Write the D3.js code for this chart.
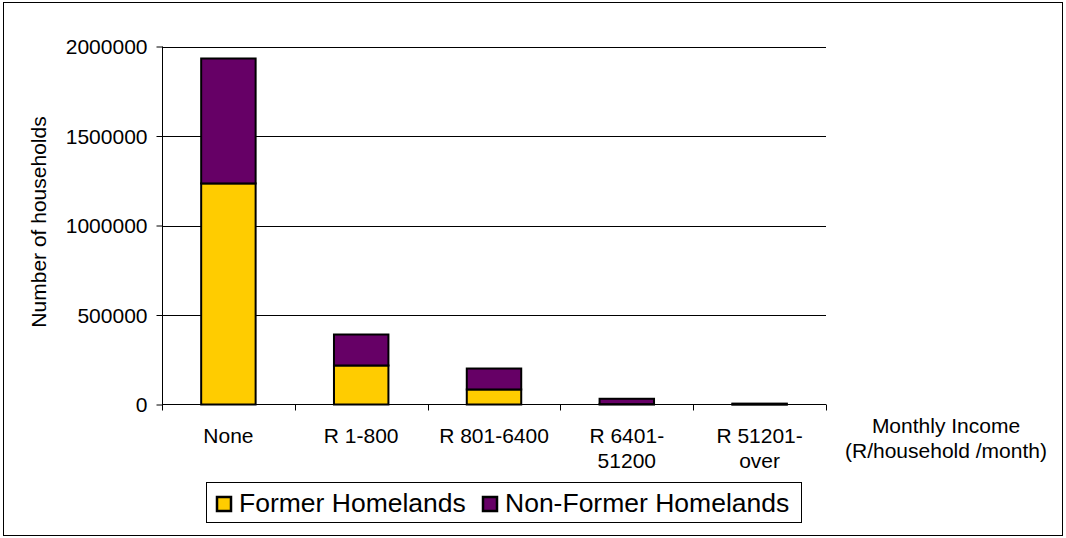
<!DOCTYPE html>
<html>
<head>
<meta charset="utf-8">
<script src="https://cdn.jsdelivr.net/npm/d3@7"></script>
<style>
  body { margin: 0; background: #fff; }
  text { font-family: Arial, "Liberation Sans", sans-serif; fill: #000; }
</style>
</head>
<body>
<svg width="1066" height="538"></svg>
<script>
var categories = [["None"], ["R 1-800"], ["R 801-6400"], ["R 6401-", "51200"], ["R 51201-", "over"]];
var former = [1235000, 218000, 84000, 2000, 500];
var nonFormer = [698000, 173000, 117000, 30000, 4500];
var yTicks = [0, 500000, 1000000, 1500000, 2000000];
var seriesNames = ["Former Homelands", "Non-Former Homelands"];
var colors = ["#ffcc00", "#660066"];

var svg = d3.select("svg");

svg.append("rect")
    .attr("x", 3.5).attr("y", 2.5)
    .attr("width", 1059).attr("height", 533)
    .attr("fill", "none").attr("stroke", "#000").attr("stroke-width", 1);

var margin = {left: 162, top: 46.5, right: 826, bottom: 404.5};

var x = d3.scaleBand()
    .domain(d3.range(categories.length))
    .range([margin.left, margin.right])
    .paddingInner(0.59).paddingOuter(0.295);

var y = d3.scaleLinear()
    .domain([0, 2000000])
    .range([margin.bottom, margin.top]);

// gridlines
svg.append("g")
    .selectAll("line")
    .data(yTicks.slice(1))
    .enter()
        .append("line")
        .attr("x1", margin.left).attr("x2", margin.right)
        .attr("y1", function(d) { return Math.round(y(d)) + 0.5; })
        .attr("y2", function(d) { return Math.round(y(d)) + 0.5; })
        .attr("stroke", "#000").attr("stroke-width", 1);

// y axis
var yAxis = svg.append("g")
    .attr("transform", "translate(" + (margin.left + 0.5) + ",0)")
    .call(d3.axisLeft(y).tickValues(yTicks).tickFormat(d3.format("d")).tickSize(6).tickPadding(9));
yAxis.selectAll("text").style("font-size", "21px").attr("dy", "0.35em");
yAxis.selectAll("line, path").attr("stroke", "#000");
yAxis.select(".domain").attr("d", "M0," + margin.top + "V" + margin.bottom);

// x axis line and ticks between categories
svg.append("line")
    .attr("x1", margin.left).attr("x2", margin.right)
    .attr("y1", margin.bottom).attr("y2", margin.bottom)
    .attr("stroke", "#000");
var step = (margin.right - margin.left) / categories.length;
svg.append("g")
    .selectAll("line")
    .data(d3.range(categories.length + 1))
    .enter()
        .append("line")
        .attr("x1", function(i) { return Math.round(margin.left + i * step) + 0.5; })
        .attr("x2", function(i) { return Math.round(margin.left + i * step) + 0.5; })
        .attr("y1", margin.bottom).attr("y2", margin.bottom + 6)
        .attr("stroke", "#000");

// stacked bars
var rows = categories.map(function(c, i) { return {i: i, former: former[i], nonFormer: nonFormer[i]}; });
var stack = d3.stack().keys(["former", "nonFormer"])(rows);

svg.append("g")
    .selectAll("g")
    .data(stack)
    .enter()
        .append("g")
        .attr("fill", function(d, k) { return colors[k]; })
        .selectAll("rect")
        .data(function(d) { return d; })
        .enter()
            .append("rect")
            .attr("x", function(d) { return x(d.data.i); })
            .attr("width", x.bandwidth())
            .attr("y", function(d) { return y(d[1]); })
            .attr("height", function(d) { return Math.max(0, y(d[0]) - y(d[1])); })
            .attr("stroke", "#000").attr("stroke-width", 2);

// category labels
svg.append("g")
    .selectAll("text")
    .data(categories)
    .enter()
        .append("text")
        .attr("x", function(d, i) { return x(i) + x.bandwidth() / 2; })
        .attr("y", 443)
        .attr("text-anchor", "middle")
        .style("font-size", "21px")
        .each(function(d) {
            var t = d3.select(this);
            d.forEach(function(line, j) {
                t.append("tspan")
                    .attr("x", t.attr("x"))
                    .attr("dy", j === 0 ? 0 : 25)
                    .text(line);
            });
        });

// axis titles
svg.append("text")
    .attr("transform", "translate(46," + 222 + ") rotate(-90)")
    .attr("text-anchor", "middle")
    .style("font-size", "21px")
    .text("Number of households");

svg.append("text")
    .attr("x", 946).attr("y", 433)
    .attr("text-anchor", "middle")
    .style("font-size", "21px")
    .text("Monthly Income");
svg.append("text")
    .attr("x", 946).attr("y", 458)
    .attr("text-anchor", "middle")
    .style("font-size", "21px")
    .text("(R/household /month)");

// legend
var legend = svg.append("g");
legend.append("rect")
    .attr("x", 206.5).attr("y", 482.5)
    .attr("width", 595).attr("height", 40)
    .attr("fill", "#fff").attr("stroke", "#000");
var legendX = [217, 483];
seriesNames.forEach(function(name, k) {
    legend.append("rect")
        .attr("x", legendX[k]).attr("y", 497)
        .attr("width", 14).attr("height", 14)
        .attr("fill", colors[k]).attr("stroke", "#000").attr("stroke-width", 2.5);
    legend.append("text")
        .attr("x", legendX[k] + 22).attr("y", 512)
        .style("font-size", "26.5px")
        .text(name);
});
</script>
</body>
</html>
